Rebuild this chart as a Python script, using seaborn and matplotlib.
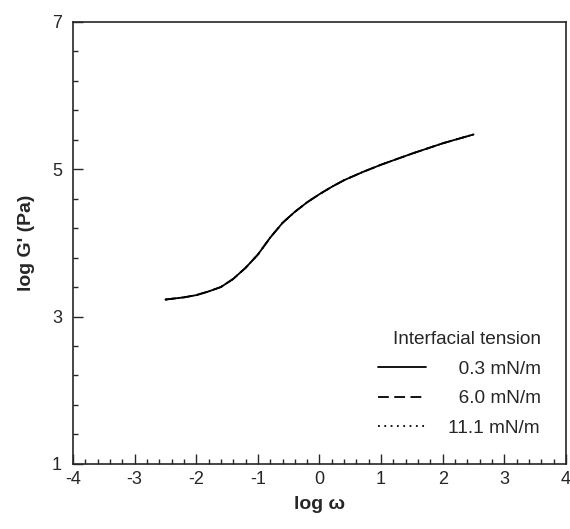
import numpy as np
import pandas as pd
import matplotlib
matplotlib.use("Agg")
import matplotlib.pyplot as plt
from matplotlib.ticker import MultipleLocator
import seaborn as sns

# values (all three tensions overlap)
log_w = [-2.5, -2.2, -2.0, -1.8, -1.6, -1.4, -1.2, -1.0, -0.8, -0.6, -0.4, -0.2,
         0.0, 0.2, 0.4, 0.7, 1.0, 1.5, 2.0, 2.5]
log_g = [3.23, 3.26, 3.29, 3.34, 3.40, 3.51, 3.66, 3.84, 4.07, 4.27, 4.42, 4.55,
         4.66, 4.76, 4.85, 4.96, 5.06, 5.21, 5.35, 5.47]
tensions = ["0.3 mN/m", "6.0 mN/m", "11.1 mN/m"]
legend_labels = ["\u20070.3 mN/m", "\u20076.0 mN/m", "11.1 mN/m"]

sns.set_style("ticks")
plt.rcParams["font.family"] = ["Liberation Sans", "DejaVu Sans"]
plt.rcParams["axes.unicode_minus"] = False

# long table, one block per tension
df = pd.concat(
    [pd.DataFrame({"log_w": log_w, "log_g": log_g, "tension": t}) for t in tensions],
    ignore_index=True,
)

fig = plt.figure(figsize=(5.7, 5.29), dpi=100)
ax = fig.add_axes([0.128, 0.123, 0.865, 0.836])

styles = ["-", (0, (6, 3)), (0, (1, 2.5))]
# draw dotted/dashed first so the solid line sits on top, like the scan
for t, ls in list(zip(tensions, styles))[::-1]:
    sub = df[df["tension"] == t]
    sns.lineplot(data=sub, x="log_w", y="log_g", ax=ax, color="black",
                 linestyle=ls, linewidth=1.3, legend=False)

ax.set_xlim(-4, 4)
ax.set_ylim(1, 7)
ax.xaxis.set_major_locator(MultipleLocator(1))
ax.xaxis.set_minor_locator(MultipleLocator(0.2))
ax.yaxis.set_major_locator(MultipleLocator(2, offset=1))
ax.yaxis.set_minor_locator(MultipleLocator(0.4, offset=0.2))
ax.tick_params(which="both", direction="in", top=False, right=False,
               labelsize=13, width=1)
ax.tick_params(axis="x", pad=5)
ax.tick_params(axis="y", pad=8)
ax.tick_params(which="major", length=7)
ax.tick_params(which="minor", length=3.5)
for s in ax.spines.values():
    s.set_linewidth(1.2)

ax.set_xlabel("log \u03c9", fontsize=14, fontweight="bold", labelpad=6)
ax.set_ylabel("log G' (Pa)", fontsize=14, fontweight="bold", labelpad=12)

# legend handles in original order
handles = [plt.Line2D([], [], color="black", linestyle=ls, linewidth=1.3) for ls in styles]
leg = ax.legend(handles, legend_labels, title="Interfacial tension",
                loc="lower right", bbox_to_anchor=(0.985, 0.022),
                frameon=False, fontsize=13.7, title_fontsize=13.7,
                handlelength=2.5, handletextpad=1.2, labelspacing=0.65,
                alignment="right")

fig.savefig("out.png", dpi=100)
